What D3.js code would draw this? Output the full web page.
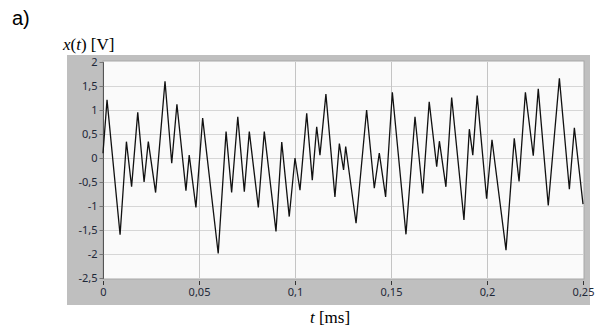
<!DOCTYPE html>
<html>
<head>
<meta charset="utf-8">
<script src="https://cdn.jsdelivr.net/npm/d3@7"></script>
<style>
  body { margin: 0; background: #fff; }
  svg { display: block; }
</style>
</head>
<body>
<div id="chart"></div>
<script>
// Signal samples (t in ms, x in V) at peaks/troughs
const times = [
  0.0000, 0.0021, 0.0089, 0.0122, 0.0149, 0.0181, 0.0214, 0.0236, 0.0274, 0.0323,
  0.0358, 0.0385, 0.0432, 0.0449, 0.0484, 0.0519, 0.0600, 0.0641, 0.0670, 0.0702,
  0.0736, 0.0762, 0.0809, 0.0840, 0.0901, 0.0931, 0.0970, 0.1000, 0.1026, 0.1061,
  0.1090, 0.1113, 0.1130, 0.1161, 0.1208, 0.1231, 0.1253, 0.1264, 0.1318, 0.1373,
  0.1413, 0.1439, 0.1472, 0.1507, 0.1578, 0.1625, 0.1665, 0.1699, 0.1738, 0.1752,
  0.1786, 0.1816, 0.1880, 0.1908, 0.1926, 0.1949, 0.1998, 0.2026, 0.2099, 0.2142,
  0.2167, 0.2200, 0.2241, 0.2267, 0.2319, 0.2377, 0.2429, 0.2455, 0.2500
];
const values = [
  0.10, 1.21, -1.60, 0.34, -0.60, 0.95, -0.50, 0.34, -0.72, 1.60,
  -0.11, 1.12, -0.68, 0.06, -1.03, 0.83, -1.99, 0.55, -0.72, 0.86,
  -0.70, 0.55, -1.03, 0.55, -1.53, 0.33, -1.22, 0.00, -0.67, 0.93,
  -0.46, 0.65, 0.06, 1.33, -0.81, 0.30, -0.25, 0.24, -1.36, 1.00,
  -0.63, 0.10, -0.81, 1.37, -1.59, 0.86, -0.74, 1.17, -0.18, 0.35,
  -0.60, 1.26, -1.29, 0.60, 0.06, 1.30, -0.85, 0.38, -1.92, 0.41,
  -0.49, 1.37, 0.05, 1.44, -0.99, 1.66, -0.65, 0.63, -0.96
];
const xTicks = [0, 0.05, 0.1, 0.15, 0.2, 0.25];
const yTicks = [2, 1.5, 1, 0.5, 0, -0.5, -1, -1.5, -2, -2.5];

const W = 599, H = 333;
const plot = { left: 103, right: 583, top: 62, bottom: 278 };
const fmt = d => String(d).replace('.', ',');

const svg = d3.select('#chart').append('svg')
  .attr('width', W).attr('height', H);

// grey frame around the graph
svg.append('rect')
  .attr('x', 67).attr('y', 55)
  .attr('width', 523).attr('height', 250)
  .attr('fill', '#bfbfbf');

const x = d3.scaleLinear().domain([0, 0.25]).range([plot.left, plot.right]);
const y = d3.scaleLinear().domain([-2.5, 2]).range([plot.bottom, plot.top]);

// plot background
svg.append('rect')
  .attr('x', plot.left).attr('y', plot.top - 1)
  .attr('width', plot.right - plot.left + 1)
  .attr('height', plot.bottom - plot.top + 2)
  .attr('fill', '#fafafa')
  .attr('stroke', '#a8a8a8')
  .attr('stroke-width', 1);

// grid
svg.append('g').selectAll('line')
  .data(yTicks.filter(d => d > -2.5 && d < 2))
  .join('line')
  .attr('x1', plot.left).attr('x2', plot.right)
  .attr('y1', d => Math.round(y(d)) + 0.5).attr('y2', d => Math.round(y(d)) + 0.5)
  .attr('stroke', '#d6d6d6');

svg.append('g').selectAll('line')
  .data(xTicks.filter(d => d > 0 && d < 0.25))
  .join('line')
  .attr('x1', d => Math.round(x(d)) + 0.5).attr('x2', d => Math.round(x(d)) + 0.5)
  .attr('y1', plot.top).attr('y2', plot.bottom)
  .attr('stroke', '#c4c4c4');

// axes
const yAxis = svg.append('g')
  .attr('transform', `translate(${plot.left + 0.5},0)`)
  .call(d3.axisLeft(y).tickValues(yTicks).tickSize(4).tickPadding(2).tickFormat(fmt));
yAxis.select('.domain').attr('stroke', '#555').attr('d', `M0,${plot.top}V${plot.bottom + 1}`);
yAxis.selectAll('.tick line').attr('stroke', '#777');

const xAxis = svg.append('g')
  .attr('transform', `translate(0,${plot.bottom + 3})`)
  .call(d3.axisBottom(x).tickValues(xTicks).tickSize(4).tickPadding(3).tickFormat(fmt));
xAxis.select('.domain').remove();
xAxis.selectAll('.tick line').attr('stroke', '#333');

svg.selectAll('.tick text')
  .attr('font-family', '"Noto Sans", "Open Sans", sans-serif')
  .attr('font-size', 11)
  .attr('fill', '#1e2838');

// signal
const line = d3.line()
  .x((d, i) => x(times[i]))
  .y(d => y(d));

svg.append('path')
  .datum(values)
  .attr('d', line)
  .attr('fill', 'none')
  .attr('stroke', '#111')
  .attr('stroke-width', 1.3)
  .attr('stroke-linejoin', 'miter');

// labels
svg.append('text')
  .attr('x', 12).attr('y', 25)
  .attr('font-family', '"Liberation Sans", Arial, sans-serif')
  .attr('font-size', 20)
  .text('a)');

const yl = svg.append('text')
  .attr('x', 63).attr('y', 50)
  .attr('font-family', '"Liberation Serif", "Times New Roman", serif')
  .attr('font-size', 17);
yl.append('tspan').attr('font-style', 'italic').text('x');
yl.append('tspan').text('(');
yl.append('tspan').attr('font-style', 'italic').text('t');
yl.append('tspan').text(') [V]');

const xl = svg.append('text')
  .attr('x', 330).attr('y', 323)
  .attr('text-anchor', 'middle')
  .attr('font-family', '"Liberation Serif", "Times New Roman", serif')
  .attr('font-size', 17);
xl.append('tspan').attr('font-style', 'italic').text('t');
xl.append('tspan').text(' [ms]');
</script>
</body>
</html>
